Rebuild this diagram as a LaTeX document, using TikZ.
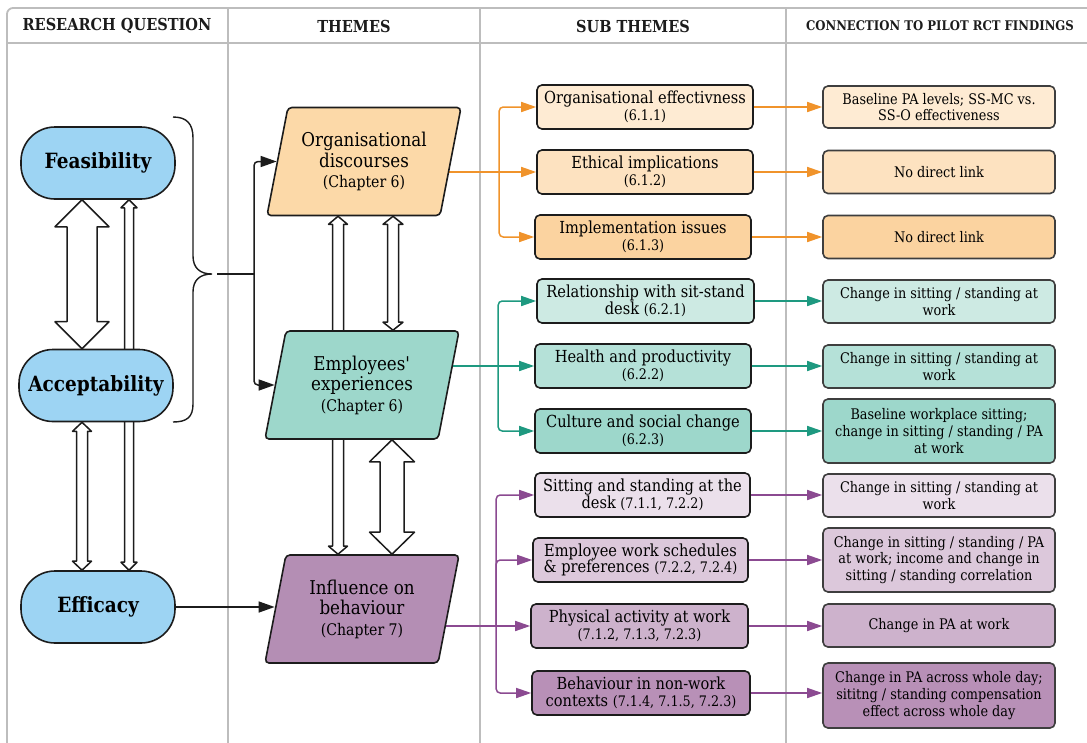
\documentclass[tikz,border=0pt]{standalone}
\usepackage{fontspec}
\setmainfont{DejaVu Serif}[FakeStretch=0.88]
\usetikzlibrary{shapes.geometric,arrows.meta,calc,backgrounds}

\definecolor{gridgray}{HTML}{BDBDBD}
\definecolor{pillblue}{HTML}{9DD4F3}
\definecolor{orgfill}{HTML}{FCD9A8}
\definecolor{empfill}{HTML}{9DD7CB}
\definecolor{inffill}{HTML}{B48EB4}
\definecolor{orA}{HTML}{FEEBD3}
\definecolor{orB}{HTML}{FDE2C0}
\definecolor{orC}{HTML}{FBD3A0}
\definecolor{tlA}{HTML}{CDEAE3}
\definecolor{tlB}{HTML}{B5E1D8}
\definecolor{tlC}{HTML}{9DD7CB}
\definecolor{puA}{HTML}{EBE0EB}
\definecolor{puB}{HTML}{DCC8DB}
\definecolor{puC}{HTML}{CDB2CC}
\definecolor{puD}{HTML}{B890B7}
\definecolor{orline}{HTML}{F0932B}
\definecolor{tlline}{HTML}{1E9980}
\definecolor{puline}{HTML}{8B4A91}
\definecolor{ink}{HTML}{1C1C1C}

\tikzset{
  gridline/.style={draw=gridgray, line width=1.8pt},
  headtext/.style={font=\bfseries\fontsize{16.5}{18}\selectfont, text=ink},
  pill/.style={draw=ink, line width=1.6pt, fill=pillblue, rounded corners=34pt,
    minimum width=154pt, minimum height=72pt, font=\bfseries\fontsize{21}{24}\selectfont},
  theme/.style={draw=ink, line width=1.6pt, trapezium, trapezium left angle=71,
    trapezium right angle=109, trapezium stretches body, rounded corners=4pt,
    minimum width=194pt, minimum height=108pt, align=center, inner sep=1pt,
    font=\fontsize{19}{20.5}\selectfont},
  subbox/.style={draw=ink, line width=1.6pt, rounded corners=5pt, minimum width=216pt,
    minimum height=44pt, align=center, inner sep=1pt, font=\fontsize{16.6}{16.8}\selectfont},
  connbox/.style={draw=ink!85, line width=1.6pt, rounded corners=5pt, minimum width=232pt,
    minimum height=43pt, align=center, inner sep=1pt, font=\fontsize{14.6}{16.6}\selectfont},
  blk/.style={draw=ink, line width=1.5pt, rounded corners=4pt},
  blkarrow/.style={blk, -{Triangle[length=16pt,width=11pt]}},
  colarrow/.style={line width=1.5pt, rounded corners=4pt, -{Triangle[length=15pt,width=10pt]}},
  hollow/.style={draw=ink, line width=1.5pt, fill=white, line join=round},
}
\newcommand\codesize{\fontsize{14.5}{16.8}\selectfont}
\newcommand\chapsize{\fontsize{16}{20.5}\selectfont}

% double-headed hollow arrow between two stacked nodes:
% #1 x, #2 upper node, #3 lower node, #4 half shaft, #5 half head, #6 head length
\newcommand\twoway[6]{%
  \draw[hollow] let \p1=(#2.south), \p2=(#3.north) in
    (#1pt,\y1) -- (#1pt+#5pt,\y1-#6pt) -- (#1pt+#4pt,\y1-#6pt) -- (#1pt+#4pt,\y2+#6pt)
    -- (#1pt+#5pt,\y2+#6pt) -- (#1pt,\y2) -- (#1pt-#5pt,\y2+#6pt) -- (#1pt-#4pt,\y2+#6pt)
    -- (#1pt-#4pt,\y1-#6pt) -- (#1pt-#5pt,\y1-#6pt) -- cycle;}

\begin{document}
\begin{tikzpicture}[x=1pt,y=-1pt]
\useasboundingbox (0,0) rectangle (1087,742);

% column headings
\node[headtext] (h1) at (117,26) {RESEARCH QUESTION};
\node[headtext] (h2) at (354,26) {THEMES};
\node[headtext] (h3) at (633,26) {SUB THEMES};
\node[headtext, font=\bfseries\fontsize{13.3}{15}\selectfont] (h4) at (940,26) {CONNECTION TO PILOT RCT FINDINGS};

% research questions
\node[pill] (feas) at (98,163) {Feasibility};
\node[pill] (acc) at (96,385.5) {Acceptability};
\node[pill] (eff) at (98,607) {Efficacy};

% themes
\node[theme, fill=orgfill] (org) at (364,161.5) {Organisational\\discourses\\{\chapsize(Chapter 6)}};
\node[theme, fill=empfill] (emp) at (362,385) {Employees\textquotesingle\\experiences\\{\chapsize(Chapter 6)}};
\node[theme, fill=inffill] (inf) at (362,609) {Influence on\\behaviour\\{\chapsize(Chapter 7)}};

% sub themes
\node[subbox, fill=orA] (os1) at (645,107) {Organisational effectivness\\{\codesize(6.1.1)}};
\node[subbox, fill=orB] (os2) at (645,172) {Ethical implications\\{\codesize(6.1.2)}};
\node[subbox, fill=orC] (os3) at (643,237) {Implementation issues\\{\codesize(6.1.3)}};
\node[subbox, fill=tlA, minimum width=217pt] (ts1) at (645.5,301) {Relationship with sit-stand\\desk {\codesize(6.2.1)}};
\node[subbox, fill=tlB] (ts2) at (643,366) {Health and productivity\\{\codesize(6.2.2)}};
\node[subbox, fill=tlC] (ts3) at (643,431) {Culture and social change\\{\codesize(6.2.3)}};
\node[subbox, fill=puA, minimum width=215pt] (ps1) at (642.5,495) {Sitting and standing at the\\desk {\codesize(7.1.1, 7.2.2)}};
\node[subbox, fill=puB, minimum width=215pt] (ps2) at (640.5,560) {Employee work schedules\\\& preferences {\codesize(7.2.2, 7.2.4)}};
\node[subbox, fill=puC, minimum width=217pt] (ps3) at (639.5,626) {Physical activity at work\\{\codesize(7.1.2, 7.1.3, 7.2.3)}};
\node[subbox, fill=puD, minimum width=218pt] (ps4) at (641,693) {Behaviour in non-work\\contexts {\codesize(7.1.4, 7.1.5, 7.2.3)}};

% connection to pilot RCT findings
\node[connbox, fill=orA, minimum height=42pt] (oc1) at (939,107) {Baseline PA levels; SS-MC vs.\\SS-O effectiveness};
\node[connbox, fill=orB] (oc2) at (939,172) {No direct link};
\node[connbox, fill=orC] (oc3) at (939,237) {No direct link};
\node[connbox, fill=tlA] (tc1) at (939,301.5) {Change in sitting / standing at\\work};
\node[connbox, fill=tlB] (tc2) at (939,366.5) {Change in sitting / standing at\\work};
\node[connbox, fill=tlC, minimum height=64pt] (tc3) at (939,431) {Baseline workplace sitting;\\change in sitting / standing / PA\\at work};
\node[connbox, fill=puA] (pc1) at (939,495.5) {Change in sitting / standing at\\work};
\node[connbox, fill=puB, minimum height=64pt] (pc2) at (939,560) {Change in sitting / standing / PA\\at work; income and change in\\sitting / standing correlation};
\node[connbox, fill=puC] (pc3) at (939,625.5) {Change in PA at work};
\node[connbox, fill=puD, minimum height=65pt] (pc4) at (939,695.5) {Change in PA across whole day;\\sititng / standing compensation\\effect across whole day};

% brace grouping feasibility and acceptability
\draw[line width=1.4pt, ink] (173,117) .. controls (187,117) and (193,124) .. (193,138)
  -- (193,256) .. controls (193,268) and (200,274) .. (212,274)
  .. controls (200,274) and (193,280) .. (193,292)
  -- (193,404) .. controls (193,417) and (187,422) .. (173,422);
\coordinate (bt) at (212,274);
\coordinate (split) at (254,274);

\begin{scope}[on background layer]
  % table frame
  \draw[gridline, rounded corners=6pt] (7,760) -- (7,8) -- (1094,8) -- (1094,760);
  \draw[gridline] (7,43) -- (1094,43);
  \draw[gridline] (228,8) -- (228,760);
  \draw[gridline] (480,8) -- (480,760);
  \draw[gridline] (786,8) -- (786,760);

  % links between research questions
  \twoway{82}{feas}{acc}{15}{27}{27}
  \twoway{129}{feas}{eff}{4.5}{8}{8}
  \twoway{82}{acc}{eff}{5.5}{9.5}{9}
  % links between themes
  \twoway{338}{org}{inf}{5.5}{9.5}{8}
  \twoway{393}{org}{emp}{5.5}{10}{8}
  \twoway{392}{emp}{inf}{12}{22.5}{22}

  % research questions to themes
  \draw[blk] ([xshift=5pt]bt) -- (split);
  \draw[blkarrow] (split) |- (org.west);
  \draw[blkarrow] (split) |- (emp.west);
  \draw[blkarrow] (eff.east) -- (eff.east -| inf.west);

  % themes to sub themes
  \coordinate (obus) at ($(os2.west)+(-37,0)$);
  \coordinate (tbus) at ($(ts2.west)+(-36,0)$);
  \coordinate (pbus) at ($(ps3.west)+(-34,0)$);
  \draw[colarrow, orline] (org.center |- os2.west) -- (os2.west);
  \draw[colarrow, orline] (obus) |- (os1.west);
  \draw[colarrow, orline] (obus) |- (os3.west);
  \draw[colarrow, tlline] (emp.center |- ts2.west) -- (ts2.west);
  \draw[colarrow, tlline] (tbus) |- (ts1.west);
  \draw[colarrow, tlline] (tbus) |- (ts3.west);
  \draw[colarrow, puline] (inf.center |- ps3.west) -- (ps3.west);
  \draw[colarrow, puline] (pbus) |- (ps1.west);
  \draw[colarrow, puline] (pbus) |- (ps2.west);
  \draw[colarrow, puline] (pbus) |- (ps4.west);

  % sub themes to pilot RCT findings
  \draw[colarrow, orline] (os1.east) -- (os1.east -| oc1.west);
  \draw[colarrow, orline] (os2.east) -- (os2.east -| oc2.west);
  \draw[colarrow, orline] (os3.east) -- (os3.east -| oc3.west);
  \draw[colarrow, tlline] (ts1.east) -- (ts1.east -| tc1.west);
  \draw[colarrow, tlline] (ts2.east) -- (ts2.east -| tc2.west);
  \draw[colarrow, tlline] (ts3.east) -- (ts3.east -| tc3.west);
  \draw[colarrow, puline] (ps1.east) -- (ps1.east -| pc1.west);
  \draw[colarrow, puline] (ps2.east) -- (ps2.east -| pc2.west);
  \draw[colarrow, puline] (ps3.east) -- (ps3.east -| pc3.west);
  \draw[colarrow, puline] (ps4.east) -- (ps4.east -| pc4.west);
\end{scope}
\end{tikzpicture}
\end{document}
